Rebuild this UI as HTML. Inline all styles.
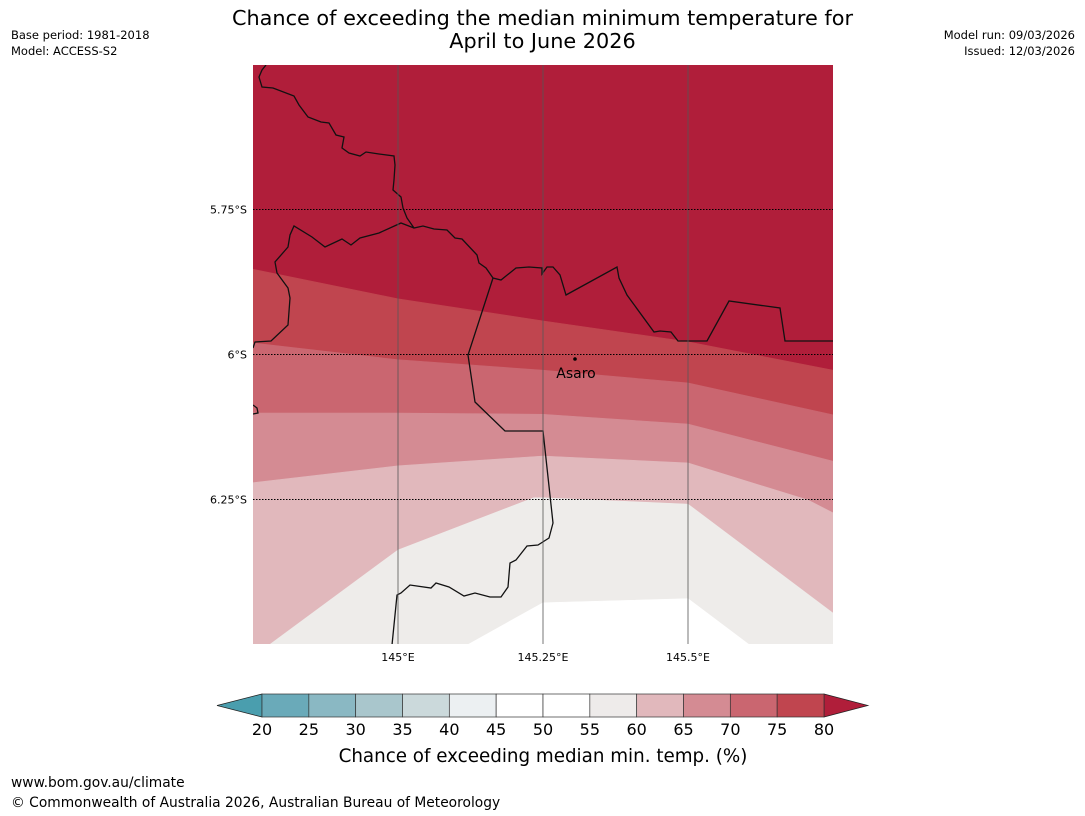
<!DOCTYPE html>
<html><head><meta charset="utf-8">
<style>
body{margin:0;width:1085px;height:816px;background:#fff;font-family:"Liberation Sans","DejaVu Sans",sans-serif;position:relative;overflow:hidden}
.t{position:absolute;white-space:nowrap;color:#000}
</style></head><body>
<div class="t" style="left:0;width:1085px;top:7px;text-align:center;font-size:20.8px;line-height:23px;font-family:'DejaVu Sans',sans-serif">Chance of exceeding the median minimum temperature for<br>April to June 2026</div>
<div class="t" style="left:11px;top:27px;font-size:11.5px;line-height:16px;font-family:'DejaVu Sans',sans-serif">Base period: 1981-2018<br>Model: ACCESS-S2</div>
<div class="t" style="right:10px;top:27px;font-size:11.5px;line-height:16px;text-align:right;font-family:'DejaVu Sans',sans-serif">Model run: 09/03/2026<br>Issued: 12/03/2026</div>
<div class="t" style="left:11px;top:775px;font-size:13.8px;font-family:'DejaVu Sans',sans-serif">www.bom.gov.au/climate</div>
<div class="t" style="left:11px;top:795px;font-size:13.8px;font-family:'DejaVu Sans',sans-serif">© Commonwealth of Australia 2026, Australian Bureau of Meteorology</div>
<svg id="s" width="1085" height="816" style="position:absolute;left:0;top:0"></svg>
<script>
// contour boundaries (lon, lat south degrees)
const b80Lon=[144.75,145.0,145.25,145.5,145.75];
const b80Lat=[5.853,5.904,5.942,5.978,6.027];
const b75Lon=[144.75,145.0,145.25,145.5,145.75];
const b75Lat=[5.980,6.009,6.027,6.049,6.104];
const b70Lon=[144.75,145.0,145.25,145.5,145.75];
const b70Lat=[6.101,6.101,6.103,6.120,6.184];
const b65Lon=[144.75,145.0,145.25,145.5,145.707,145.75];
const b65Lat=[6.221,6.192,6.175,6.187,6.251,6.273];
const b60Lon=[144.779,145.0,145.234,145.25,145.5,145.75];
const b60Lat=[6.5,6.337,6.247,6.247,6.258,6.446];
const b55Lon=[145.121,145.25,145.5,145.605];
const b55Lat=[6.5,6.428,6.421,6.5];
const lonTicks=[145.0,145.25,145.5];
const lonLabels=["145°E","145.25°E","145.5°E"];
const latTicks=[5.75,6.0,6.25];
const latLabels=["5.75°S","6°S","6.25°S"];
const cbTicks=[20,25,30,35,40,45,50,55,60,65,70,75,80];
const cbColors=["#6aaab9","#8ab8c3","#a9c6cc","#cbd9db","#ecf0f2","#ffffff","#ffffff","#eeebea","#e1b8bc","#d48b93","#ca6670","#c0454f"];

const NS="http://www.w3.org/2000/svg",s=document.getElementById('s');
const X=lon=>253+(lon-144.75)*580, Y=lat=>64.5+(lat-5.5)*580;
const CX=v=>262+(v-20)*(562/60);
function el(t,a,p){const e=document.createElementNS(NS,t);for(const k in a)e.setAttribute(k,a[k]);(p||s).appendChild(e);return e;}
const defs=el('defs',{});const cp=el('clipPath',{id:'mc'},defs);el('rect',{x:253,y:65,width:580,height:579},cp);
const g=el('g',{'clip-path':'url(#mc)'});
const bg=el('rect',{x:253,y:65,width:580,height:579,fill:'#b01e3a'},g);


function band(lons,lats,col,name){
 let pts=lons.map((l,i)=>X(l)+','+Y(lats[i]));
 pts.push(X(lons[lons.length-1])+',650', X(lons[0])+',650');
 if(lons[0]<=144.76&&lons[lons.length-1]>=145.74){pts=lons.map((l,i)=>X(l)+','+Y(lats[i]));pts.push('840,'+Y(lats[lats.length-1]),'840,650','246,650','246,'+Y(lats[0]));}
 const p=el('polygon',{points:pts.join(' '),fill:col,stroke:col,'stroke-width':0.6},g);
 
 
}
band(b80Lon,b80Lat,'#c0454f','band-75-80');
band(b75Lon,b75Lat,'#ca6670','band-70-75');
band(b70Lon,b70Lat,'#d48b93','band-65-70');
band(b65Lon,b65Lat,'#e1b8bc','band-60-65');
band(b60Lon,b60Lat,'#eeecea','band-55-60');
band(b55Lon,b55Lat,'#ffffff','band-50-55');
// coastline / boundaries (basemap)
const coast="M266,65 L262,70 259,77 262,87 273,88 294,96 299,105 308,117 321,122 329,123 336,135 344,137 342,148 349,153 360,156 366,152 379,154 394,156 395,165 394,180 393,190 401,197 403,208 407,218 414,228 423,226 434,229 447,230 455,238 462,239 477,255 479,263 486,268 493,278 501,280 516,268 529,267 542,268 542,274 547,267 553,267 560,275 566,295 617,267 619,278 627,295 654,332 660,331 671,332 678,341 707,341 729,301 780,308 785,341 833,341 M414,228 L401,223 379,233 360,238 351,245 342,239 325,247 312,237 294,226 290,235 288,247 275,262 277,273 288,288 290,298 288,325 271,341 255,342 253,348 M493,278 L468,355 475,402 505,431 543,431 553,523 549,538 538,545 527,546 516,560 510,563 508,587 501,597 490,597 475,593 464,596 449,587 436,583 431,588 410,585 401,593 397,595 392,645 M253,405 L257,408 258,413 253,414";
const c=el('path',{d:coast,fill:'none',stroke:'#111','stroke-width':1.3},g);


lonTicks.forEach((v,i)=>{
 const l=el('line',{x1:X(v),x2:X(v),y1:65,y2:644,stroke:'#555','stroke-width':1,'stroke-opacity':0.8});
 
 
 const t=el('text',{x:X(v),y:661,'text-anchor':'middle','font-size':11,'font-family':'DejaVu Sans, sans-serif'});t.textContent=lonLabels[i];
 
 
});
latTicks.forEach((v,i)=>{
 const l=el('line',{x1:253,x2:833,y1:Y(v),y2:Y(v),stroke:'#000','stroke-width':1,'stroke-dasharray':'1.5,1.5'});
 
 
 const t=el('text',{x:247,y:Y(v)+4,'text-anchor':'end','font-size':11,'font-family':'DejaVu Sans, sans-serif'});t.textContent=latLabels[i];
 
 
});
const dot=el('circle',{cx:575,cy:359,r:1.8,fill:'#000'});


const at=el('text',{x:576,y:378,'text-anchor':'middle','font-size':14,'font-family':'DejaVu Sans, sans-serif'});at.textContent='Asaro';


// colorbar
const lt=el('polygon',{points:'262,694 262,717 217,705.5',fill:'#4a9eae',stroke:'#222','stroke-width':0.7});


const rt=el('polygon',{points:'824,694 824,717 868,705.5',fill:'#b01e3a',stroke:'#222','stroke-width':0.7});


cbColors.forEach((col,i)=>{
 const r=el('rect',{x:CX(cbTicks[i]),y:694,width:CX(cbTicks[i+1])-CX(cbTicks[i]),height:23,fill:col,stroke:'#333','stroke-width':0.7});
 
 
});
cbTicks.forEach(v=>{
 const t=el('text',{x:CX(v),y:735,'text-anchor':'middle','font-size':16,'font-family':'DejaVu Sans, sans-serif'});t.textContent=v;
 
 
});
const ct=el('text',{x:543,y:762,'text-anchor':'middle','font-size':18.3,'font-family':'DejaVu Sans, sans-serif'});ct.textContent='Chance of exceeding median min. temp. (%)';


</script>
</body></html>
